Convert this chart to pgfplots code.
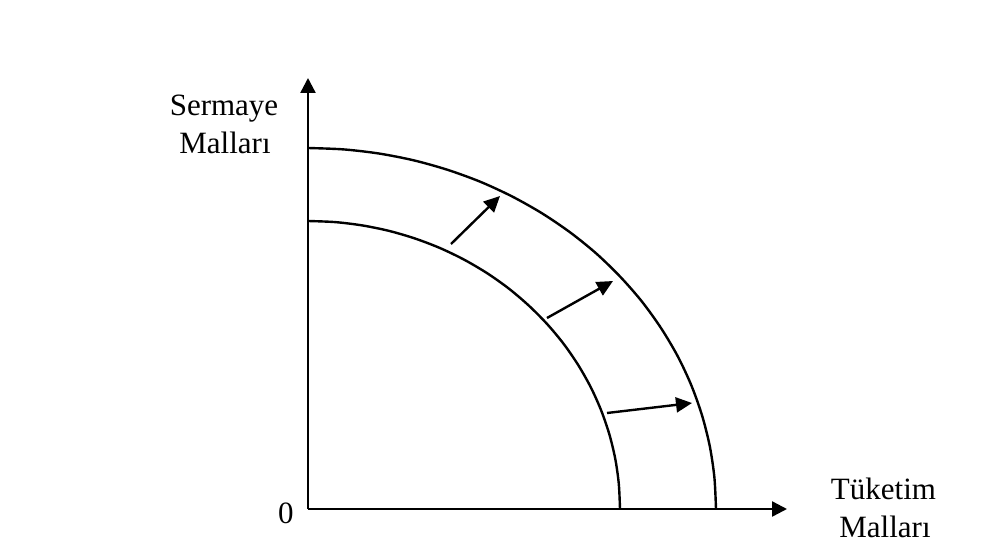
\documentclass[border=0pt]{standalone}
\usepackage{fontspec}
\setmainfont{Liberation Serif}
\usepackage{pgfplots}
\pgfplotsset{compat=1.18}
\usetikzlibrary{arrows.meta}
\begin{document}
\begin{tikzpicture}
\begin{axis}[
  at={(0pt,0pt)}, anchor=origin,
  scale only axis, width=479pt, height=431pt,
  xmin=0, xmax=4.79, ymin=0, ymax=4.31,
  axis lines=left,
  axis line style={line width=2.4pt, -{Triangle[length=15pt,width=15pt]}},
  xtick=\empty, ytick=\empty,
  clip=false,
]
% outer curve
\addplot[black, line width=2.4pt, smooth] coordinates {
 (0,3.61) (0.356,3.596) (0.708,3.555) (1.056,3.487) (1.395,3.392) (1.724,3.272)
 (2.04,3.126) (2.340,2.957) (2.623,2.765) (2.885,2.553) (3.125,2.320) (3.342,2.071)
 (3.533,1.805) (3.698,1.526) (3.834,1.235) (3.941,0.934) (4.018,0.627) (4.064,0.315) (4.08,0)};
% inner curve
\addplot[black, line width=2.4pt, smooth] coordinates {
 (0,2.88) (0.272,2.869) (0.542,2.836) (0.807,2.782) (1.067,2.706) (1.319,2.610)
 (1.56,2.494) (1.790,2.359) (2.006,2.206) (2.206,2.036) (2.390,1.851) (2.556,1.652)
 (2.702,1.44) (2.828,1.217) (2.932,0.985) (3.014,0.745) (3.073,0.500) (3.108,0.251) (3.12,0)};
% shift arrows
\addplot[black, line width=2.4pt, -{Triangle[length=16pt,width=15pt]}] coordinates {(1.43,2.65) (1.92,3.13)};
\addplot[black, line width=2.4pt, -{Triangle[length=16pt,width=15pt]}] coordinates {(2.39,1.91) (3.05,2.28)};
\addplot[black, line width=2.4pt, -{Triangle[length=16pt,width=15pt]}] coordinates {(2.99,0.96) (3.84,1.06)};
% labels
\node[anchor=base, font=\fontsize{31}{37}\selectfont] at (axis cs:-0.84,3.93) {Sermaye};
\node[anchor=base, font=\fontsize{31}{37}\selectfont] at (axis cs:-0.83,3.56) {Malları};
\node[anchor=base, font=\fontsize{31}{37}\selectfont] at (axis cs:5.755,0.10) {Tüketim};
\node[anchor=base, font=\fontsize{31}{37}\selectfont] at (axis cs:5.77,-0.28) {Malları};
\node[anchor=base, font=\fontsize{31}{37}\selectfont] at (axis cs:-0.22,-0.14) {0};
\end{axis}
\path[use as bounding box] (-308pt,-38pt) rectangle (676pt,509pt);
\end{tikzpicture}
\end{document}
